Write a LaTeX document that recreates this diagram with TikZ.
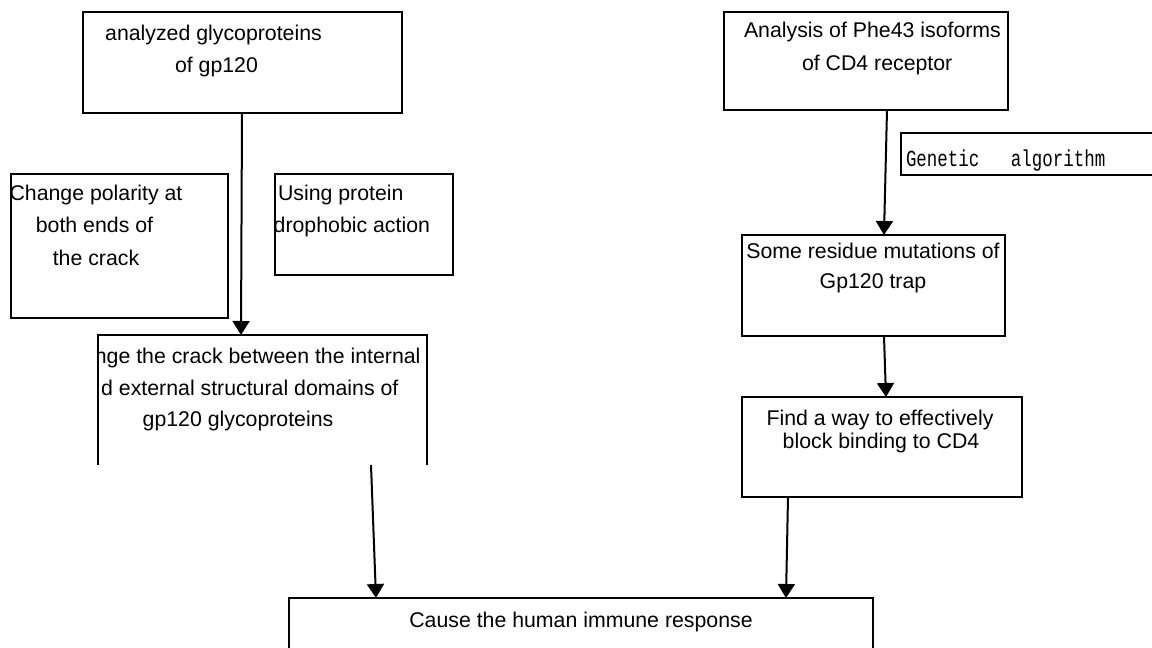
\documentclass[tikz,border=0pt]{standalone}
\usepackage{fontspec}
\usepackage{graphicx}
\setmainfont{Liberation Sans}
\newfontfamily\gmono{Liberation Mono}
\usetikzlibrary{arrows.meta}
\begin{document}
\begin{tikzpicture}[x=1pt,y=-1pt,
  box/.style={draw=black, line width=1.4pt, inner sep=0pt, outer sep=0pt, anchor=north west},
  openbox/.style={inner sep=0pt, outer sep=0pt, anchor=north west},
  edge/.style={line width=1.4pt},
  txt/.style={inner sep=0pt, outer sep=0pt, font=\fontsize{21.3}{32}\selectfont},
  gtxt/.style={inner sep=0pt, outer sep=0pt, font=\gmono\fontsize{23}{23}\selectfont},
  arr/.style={line width=2pt, -{Triangle[width=17pt,length=14pt]}}]
\useasboundingbox (0,0) rectangle (1152,648);
\clip (0,0) rectangle (1152,648);
\fill[white] (0,0) rectangle (1152,648);

% boxes
\node[box, minimum width=319pt, minimum height=101pt] (b1) at (83,12) {};
\node[box, minimum width=284pt, minimum height=98pt] (b2) at (724,12) {};
\node[box, minimum width=217pt, minimum height=144pt] (b3) at (11,174) {};
\node[box, minimum width=178pt, minimum height=101pt] (b4) at (275,174) {};
\node[box, minimum width=270pt, minimum height=42pt] (bg) at (901,133) {};
\node[openbox, minimum width=329pt, minimum height=130pt] (b5) at (98,335) {};
\draw[edge] (b5.south west) -- (b5.north west) -- (b5.north east) -- (b5.south east);
\node[box, minimum width=263pt, minimum height=101pt] (b6) at (742,235) {};
\node[box, minimum width=280pt, minimum height=100pt] (b7) at (742,397) {};
\node[box, minimum width=584pt, minimum height=70pt] (b8) at (289,598) {};

% texts
\node[txt, anchor=base] (t1a) at (213.5,40.5) {analyzed glycoproteins};
\node[txt, anchor=base] (t1b) at (216.5,72) {of gp120};
\node[txt, anchor=base west] (t2a) at (744,37.5) {Analysis of Phe43 isoforms};
\node[txt, anchor=base west] (t2b) at (802,70.5) {of CD4 receptor};
\begin{scope}
\clip (b3.north west) rectangle (b3.south east);
\node[txt, anchor=base] (t3a) at (96,200.5) {Change polarity at};
\end{scope}
\node[txt, anchor=base] (t3b) at (94.5,232.5) {both ends of};
\node[txt, anchor=base] (t3c) at (96,265.5) {the crack};
\node[txt, anchor=base west] (t4a) at (278,200.5) {Using protein};
\begin{scope}
\clip (b4.north west) rectangle (b4.south east);
\node[txt, anchor=base east] (t4b) at (430,232.5) {drophobic action};
\end{scope}
\node[gtxt, anchor=base west] (tg) at (906,166) {\scalebox{0.76}[1]{Genetic\ \ \ algorithm}};
\begin{scope}
\clip (b5.north west) rectangle (b5.south east);
\node[txt, anchor=base east] (t5a) at (420.5,363.5) {nge the crack between the internal};
\node[txt, anchor=base east] (t5b) at (398.4,395.5) {d external structural domains of};
\end{scope}
\node[txt, anchor=base] (t5c) at (238,426.5) {gp120 glycoproteins};
\node[txt, anchor=base] (t6a) at (873,258.5) {Some residue mutations of};
\node[txt, anchor=base] (t6b) at (873,288.5) {Gp120 trap};
\node[txt, anchor=base] (t7a) at (880,425.5) {Find a way to effectively};
\node[txt, anchor=base] (t7b) at (881,448.5) {block binding to CD4};
\node[txt, anchor=base] (t8) at (581,627.5) {Cause the human immune response};

% connectors
\draw[arr] ([xshift=159pt]b1.south west) -- ([xshift=143pt]b5.north west);
\draw[arr] ([xshift=163pt]b2.south west) -- ([xshift=142pt]b6.north west);
\draw[arr] ([xshift=142pt]b6.south west) -- ([xshift=144pt]b7.north west);
\draw[arr] ([xshift=273pt]b5.south west) -- ([xshift=87pt]b8.north west);
\draw[arr] ([xshift=46pt]b7.south west) -- ([xshift=497pt]b8.north west);
\end{tikzpicture}
\end{document}
